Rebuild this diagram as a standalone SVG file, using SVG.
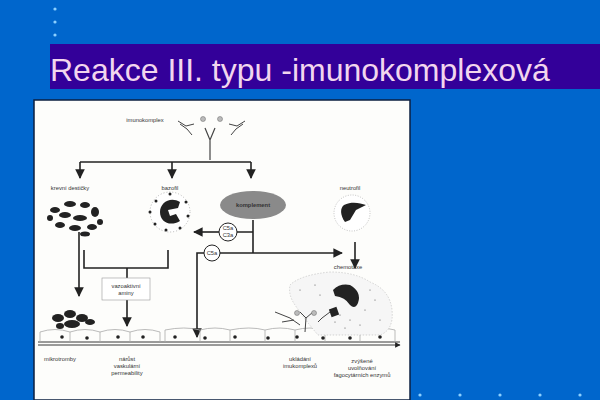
<svg xmlns="http://www.w3.org/2000/svg" width="600" height="400" viewBox="0 0 600 400">
<style>
.t{font-family:"Liberation Sans",Arial,sans-serif;font-size:5.8px;fill:#333;text-anchor:middle}
.l{stroke:#222;stroke-width:1.6;fill:none}
.n{fill:#222}
.cell{fill:none;stroke:#aaa;stroke-width:0.8}
.dot{fill:#8cd0ff}
</style>
<defs>
<marker id="a" viewBox="0 0 10 10" refX="9" refY="5" markerWidth="6" markerHeight="6" orient="auto"><path d="M0,0L10,5L0,10Z" fill="#222"/></marker>
<g id="ab"><path d="M0,0L8,5L16,3M2,3L9,8L14,14" stroke="#444" stroke-width="1" fill="none"/></g>
</defs>
<rect width="600" height="400" fill="#0066cc"/>
<g id="dots"><circle class="dot" cx="55" cy="9" r="1.6"/><circle class="dot" cx="55" cy="22" r="1.6"/><circle class="dot" cx="55" cy="35" r="1.6"/>
<circle class="dot" cx="420" cy="395" r="1.6"/><circle class="dot" cx="460" cy="395" r="1.6"/><circle class="dot" cx="500" cy="395" r="1.6"/><circle class="dot" cx="540" cy="395" r="1.6"/><circle class="dot" cx="580" cy="395" r="1.6"/></g>
<g id="title"><rect x="50" y="44" width="550" height="45" fill="#330099"/>
<text x="50" y="81" font-family="Liberation Sans,Arial,sans-serif" font-size="32" fill="#f2d6ee">Reakce III. typu -imunokomplexová</text></g>
<rect x="34" y="100" width="376" height="300" fill="#fdfdfb" stroke="#0b1f40" stroke-width="1.5"/>
<g id="imunokomplex"><text class="t" x="145" y="122">imunokomplex</text>
<use href="#ab" transform="translate(178,121)"/>
<use href="#ab" transform="translate(245,121) scale(-1,1)"/>
<path d="M205,128L210,140L215,128M210,140V160" stroke="#444" stroke-width="1.2" fill="none"/>
<circle cx="203" cy="119" r="2.5" fill="#bbb" stroke="#666" stroke-width=".5"/><circle cx="220" cy="119" r="2.5" fill="#bbb" stroke="#666" stroke-width=".5"/></g>
<g id="connectors">
<path class="l" d="M80,162H251"/>
<path class="l" d="M251,162V178" marker-end="url(#a)"/>
<path class="l" d="M80,162V178" marker-end="url(#a)"/>
<path class="l" d="M172,162V178" marker-end="url(#a)"/>
<path class="l" d="M79,232V296" marker-end="url(#a)"/>
<path class="l" d="M84,250V268H168V250M127,268V278"/>
<path class="l" d="M127,300V326" marker-end="url(#a)"/>
<path class="l" d="M253,220V253M237,232H253"/>
<path class="l" d="M219,232H194" marker-end="url(#a)"/>
<path class="l" d="M220,253H342" marker-end="url(#a)"/>
<path class="l" d="M204,253H197V337" marker-end="url(#a)"/>
<path class="l" d="M355,242V268" marker-end="url(#a)"/>
<path d="M38,342H400M38,345H400" stroke="#222" stroke-width="0.9" marker-end="url(#a)"/>
</g>
<g id="platelets"><text class="t" x="70" y="190">krevní destičky</text>
<g class="n"><ellipse cx="55" cy="210" rx="5" ry="3"/><ellipse cx="70" cy="204" rx="6" ry="3"/><ellipse cx="85" cy="205" rx="5" ry="3"/><ellipse cx="95" cy="212" rx="4" ry="5"/><ellipse cx="65" cy="215" rx="6" ry="3"/><ellipse cx="80" cy="218" rx="7" ry="3"/><circle cx="50" cy="218" r="3"/><ellipse cx="60" cy="225" rx="5" ry="3"/><ellipse cx="75" cy="228" rx="6" ry="3"/><ellipse cx="92" cy="227" rx="5" ry="3"/><circle cx="100" cy="222" r="3"/><ellipse cx="85" cy="234" rx="5" ry="2.5"/></g></g>
<g id="bazofil"><text class="t" x="170" y="190">bazofil</text>
<circle cx="170" cy="212" r="20" fill="#fff" stroke="#888" stroke-width=".6" stroke-dasharray="1 2"/>
<path d="M180,202C170,196 160,203 160,212C160,222 170,227 180,221L176,214L170,216L168,210L178,208Z" class="n"/>
<g class="n"><circle cx="156" cy="201" r="1.5"/><circle cx="150" cy="212" r="1.5"/><circle cx="155" cy="224" r="1.5"/><circle cx="166" cy="230" r="1.5"/><circle cx="180" cy="228" r="1.5"/><circle cx="188" cy="216" r="1.5"/><circle cx="186" cy="202" r="1.5"/><circle cx="170" cy="194" r="1.5"/></g></g>
<g id="komplement"><ellipse cx="253" cy="205" rx="33" ry="14" fill="#8a8a8a"/>
<text class="t" x="253" y="207" font-weight="bold" fill="#222">komplement</text></g>
<g id="c5ac3a"><circle cx="228" cy="232" r="9" fill="#fff" stroke="#222"/><text class="t" x="228" y="230">C5a</text><text class="t" x="228" y="237">C3a</text></g>
<g id="c5a"><circle cx="212" cy="253" r="8" fill="#fff" stroke="#222"/><text class="t" x="212" y="255">C5a</text></g>
<g id="neutrofil"><text class="t" x="350" y="190">neutrofil</text>
<circle cx="352" cy="213" r="18" fill="#fff" stroke="#999" stroke-width=".6" stroke-dasharray="1 1.5"/>
<path d="M344,205C352,201 360,203 366,205L356,210L350,220L345,222C340,215 340,208 344,205Z" class="n"/></g>
<g id="vazoaktivni"><rect x="102" y="278" width="48" height="22" fill="#fff" stroke="#999" stroke-width=".6"/>
<text class="t" x="126" y="288">vazoaktivní</text><text class="t" x="126" y="295">aminy</text></g>
<g id="endothelium">
<path class="cell" d="M40,342V332Q55,327 70,332V342M70,332Q85,327 100,332M100,342V332Q115,327 130,332V342M130,332Q145,327 160,332M160,342V332M165,342V330Q185,326 200,330V342M200,330Q215,326 230,330V342M230,330Q250,326 265,330V342M265,330Q280,326 295,330V342M295,330Q310,326 325,330V342M325,330Q345,326 360,330V342M360,330Q380,326 395,330V342"/>
<g class="n"><circle cx="62" cy="337" r="1.8"/><circle cx="87" cy="338" r="1.8"/><circle cx="118" cy="337" r="1.8"/><circle cx="143" cy="337" r="1.8"/><circle cx="175" cy="337" r="1.8"/><circle cx="205" cy="338" r="1.8"/><circle cx="235" cy="337" r="1.8"/><circle cx="268" cy="338" r="1.8"/><circle cx="297" cy="337" r="1.8"/><circle cx="323" cy="338" r="1.8"/><circle cx="350" cy="338" r="1.8"/><circle cx="380" cy="337" r="1.8"/></g></g>
<g id="thrombi" class="n"><ellipse cx="58" cy="318" rx="6" ry="4"/><ellipse cx="70" cy="314" rx="6" ry="4"/><ellipse cx="82" cy="318" rx="6" ry="4"/><ellipse cx="72" cy="324" rx="8" ry="4"/><ellipse cx="90" cy="322" rx="5" ry="3"/><ellipse cx="60" cy="326" rx="4" ry="3"/></g>
<g id="fagocyt"><text class="t" x="348" y="269">chemotaxe</text>
<path d="M290,285Q300,275 330,272Q355,272 370,282Q390,290 392,310Q394,330 380,335L318,335Q305,320 295,305Q288,295 290,285Z" fill="#f6f6f6" stroke="#bbb" stroke-width=".6" stroke-dasharray="1.5 1.5"/>
<path d="M333,290Q340,283 350,285Q362,292 358,303Q355,310 350,305Q345,297 335,296Z" class="n"/>
<rect x="330" y="308" width="8" height="8" class="n" transform="rotate(-20 334 312)"/>
<g fill="#555"><circle cx="300" cy="290" r=".6"/><circle cx="315" cy="285" r=".6"/><circle cx="340" cy="315" r=".6"/><circle cx="350" cy="320" r=".6"/><circle cx="365" cy="310" r=".6"/><circle cx="375" cy="300" r=".6"/><circle cx="360" cy="325" r=".6"/><circle cx="345" cy="328" r=".6"/><circle cx="380" cy="320" r=".6"/><circle cx="370" cy="290" r=".6"/><circle cx="320" cy="295" r=".6"/><circle cx="335" cy="322" r=".6"/></g>
<path d="M275,312L290,318L300,325M282,322L294,320M305,332L306,318L300,312M306,318L313,312M318,322L322,318L330,312" stroke="#444" stroke-width="1" fill="none"/>
<circle cx="297" cy="313" r="2.5" fill="#bbb" stroke="#666" stroke-width=".5"/><circle cx="314" cy="313" r="2.5" fill="#bbb" stroke="#666" stroke-width=".5"/></g>
<g id="labels">
<text class="t" x="60" y="361">mikrotromby</text>
<text class="t" x="127" y="361">nárůst</text><text class="t" x="127" y="368">vaskulární</text><text class="t" x="127" y="375">permeability</text>
<text class="t" x="300" y="361">ukládání</text><text class="t" x="300" y="368">imukomplexů</text>
<text class="t" x="362" y="363">zvýšené</text><text class="t" x="362" y="370">uvolňování</text><text class="t" x="362" y="377">fagocytárních enzymů</text></g>
</svg>
